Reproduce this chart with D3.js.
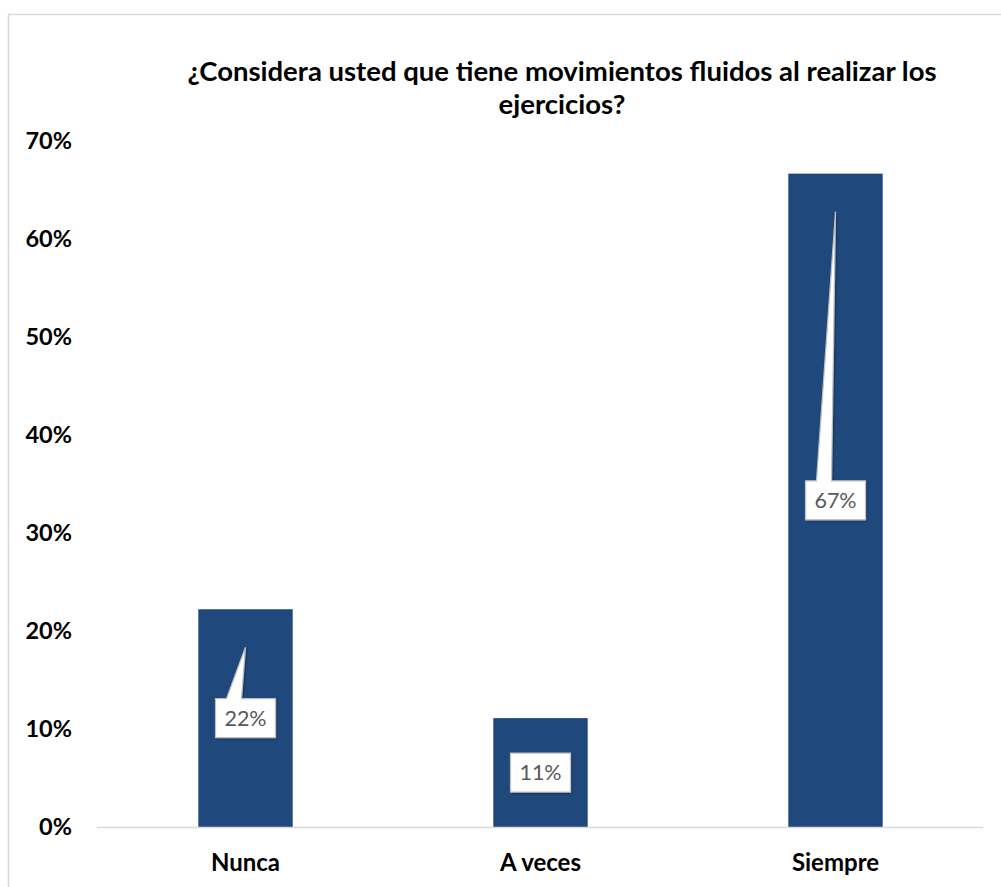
<!DOCTYPE html>
<html>
<head>
<meta charset="utf-8">
<script src="https://cdn.jsdelivr.net/npm/d3@7"></script>
<style>
  html, body { margin: 0; padding: 0; background: #fff; }
  svg { display: block; }
  text { font-family: Lato, "Open Sans", sans-serif; }
</style>
</head>
<body>
<svg id="chart" width="1001" height="887"></svg>
<script>
const titleLines = ["¿Considera usted que tiene movimientos fluidos al realizar los", "ejercicios?"];
const categories = ["Nunca", "A veces", "Siempre"];
const values = [0.2222, 0.1111, 0.6667];
const valueLabels = ["22%", "11%", "67%"];
const yTicks = [0, 0.1, 0.2, 0.3, 0.4, 0.5, 0.6, 0.7];

const svg = d3.select("#chart");

// chart border
svg.append("rect")
  .attr("x", 8.5).attr("y", 14.5)
  .attr("width", 1010).attr("height", 900)
  .attr("fill", "#fff").attr("stroke", "#d9d9d9").attr("stroke-width", 1.5);

const x = d3.scaleBand().domain(categories).range([98, 983]).paddingInner(0.68).paddingOuter(0.34);
const y = d3.scaleLinear().domain([0, 0.7]).range([827, 141]);

// title
svg.append("text")
  .attr("text-anchor", "middle")
  .attr("font-weight", "bold").attr("font-size", 27.5).attr("fill", "#000")
  .selectAll("tspan").data(titleLines).join("tspan")
  .attr("x", 562).attr("y", (d, i) => 81 + i * 33)
  .text(d => d);

// y axis
const yAxis = d3.axisLeft(y).tickValues(yTicks).tickFormat(d3.format(".0%")).tickSize(0).tickPadding(0);
const ya = svg.append("g").attr("transform", "translate(72,0)").call(yAxis);
ya.select(".domain").remove();
ya.selectAll("text").attr("font-size", 23.5).attr("font-weight", "bold").attr("fill", "#000")
  .attr("font-family", "Lato, sans-serif");

// bars
svg.selectAll("rect.bar").data(values).join("rect")
  .attr("class", "bar")
  .attr("x", (d, i) => x(categories[i]))
  .attr("width", x.bandwidth())
  .attr("y", d => y(d))
  .attr("height", d => y(0) - y(d))
  .attr("fill", "#1f497d");

// baseline
svg.append("line")
  .attr("x1", 97).attr("x2", 983).attr("y1", y(0) + 0.5).attr("y2", y(0) + 0.5)
  .attr("stroke", "#d9d9d9").attr("stroke-width", 1.5);

// x axis
const xAxis = d3.axisBottom(x).tickSize(0).tickPadding(0);
const xa = svg.append("g").attr("transform", `translate(0,${y(0) + 36})`).call(xAxis);
xa.select(".domain").remove();
xa.selectAll("text").attr("font-size", 24).attr("font-weight", "bold").attr("fill", "#000")
  .attr("font-family", "Lato, sans-serif").attr("dy", "0.35em");

// callout labels
const boxW = 60, boxH = 39;
const defs = svg.append("defs");
const f = defs.append("filter").attr("id", "sh").attr("x", "-20%").attr("y", "-20%").attr("width", "150%").attr("height", "150%");
f.append("feDropShadow").attr("dx", 1).attr("dy", 1).attr("stdDeviation", 1).attr("flood-color", "#000").attr("flood-opacity", 0.35);

values.forEach((v, i) => {
  const cx = x(categories[i]) + x.bandwidth() / 2;
  const cy = y(v / 2);
  const tipY = y(v) + 38;
  const bx = cx - boxW / 2, by = cy - boxH / 2;
  const g = svg.append("g").attr("filter", "url(#sh)");
  let path;
  if (tipY < by - 2) {
    path = `M${bx},${by} L${cx - 19},${by} L${cx},${tipY} L${cx - 4},${by} L${bx + boxW},${by} L${bx + boxW},${by + boxH} L${bx},${by + boxH} Z`;
  } else {
    path = `M${bx},${by} L${bx + boxW},${by} L${bx + boxW},${by + boxH} L${bx},${by + boxH} Z`;
  }
  g.append("path").attr("d", path).attr("fill", "#fff").attr("stroke", "#bfbfbf").attr("stroke-width", 1.2)
    .attr("stroke-linejoin", "miter");
  svg.append("text").attr("x", cx).attr("y", cy).attr("dy", "0.36em")
    .attr("text-anchor", "middle").attr("font-size", 21.5).attr("fill", "#595959")
    .text(valueLabels[i]);
});
</script>
</body>
</html>
